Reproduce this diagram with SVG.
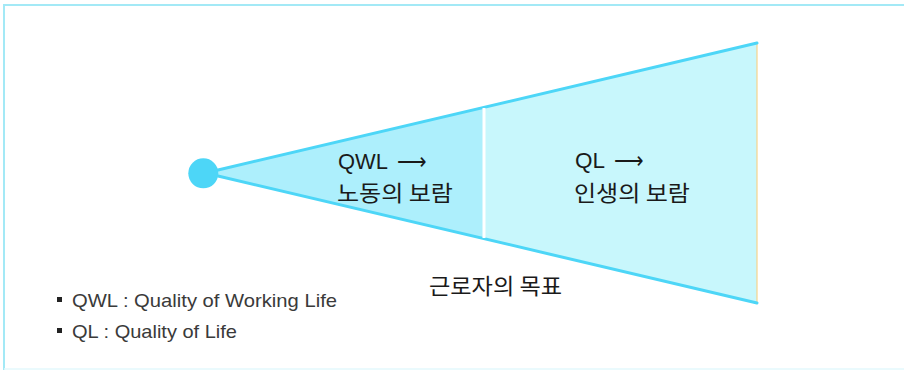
<svg xmlns="http://www.w3.org/2000/svg" width="904" height="370" viewBox="0 0 904 370">
<style>
.t{font-family:"Liberation Sans","Noto Sans CJK KR",sans-serif;fill:#1a1a1a}
.k{font-family:"Noto Sans CJK KR",sans-serif;fill:#1a1a1a}
.lg{font-family:"Liberation Sans","Noto Sans CJK KR",sans-serif;fill:#3a3a3a;font-size:19px}
.edge{stroke:#4dd6f7;stroke-width:3;fill:none;stroke-linecap:round}
</style>
<rect width="904" height="370" fill="#ffffff"/>
<g id="frame">
<line x1="4" y1="5" x2="904" y2="5" stroke="#a3e9f6" stroke-width="2"/>
<line x1="4" y1="4" x2="4" y2="370" stroke="#a3e9f6" stroke-width="2"/>
<line x1="4" y1="369" x2="904" y2="369" stroke="#e3f8fc" stroke-width="1.5"/>
</g>
<g id="wedge-qwl">
<polygon points="218,170 484,107.5 484,238.5 218,176" fill="#adeffc"/>
<text class="t" x="338" y="169" font-size="22" textLength="50" lengthAdjust="spacingAndGlyphs">QWL</text>
<text class="t" x="397" y="169" font-size="22" textLength="30" lengthAdjust="spacingAndGlyphs">⟶</text>
<text class="k" x="337" y="201" font-size="22" textLength="116" lengthAdjust="spacingAndGlyphs">노동의 보람</text>
</g>
<g id="wedge-ql">
<polygon points="484,107.5 757,43 757,303 484,238.5" fill="#c8f7fc"/>
<line x1="757" y1="43" x2="757" y2="303" stroke="#f6d38c" stroke-width="1.2"/>
<text class="t" x="575" y="168" font-size="22" textLength="30" lengthAdjust="spacingAndGlyphs">QL</text>
<text class="t" x="614" y="168" font-size="22" textLength="30" lengthAdjust="spacingAndGlyphs">⟶</text>
<text class="k" x="574" y="201" font-size="22" textLength="116" lengthAdjust="spacingAndGlyphs">인생의 보람</text>
</g>
<g id="connectors">
<line class="edge" x1="218" y1="170" x2="757" y2="43"/>
<line class="edge" x1="218" y1="176" x2="757" y2="303"/>
<line x1="484" y1="108" x2="484" y2="238" stroke="#ffffff" stroke-width="3"/>
</g>
<g id="origin">
<circle cx="203.3" cy="173.3" r="15" fill="#4dd6f7"/>
</g>
<g id="goal">
<text class="k" x="429" y="294" font-size="22" textLength="133" lengthAdjust="spacingAndGlyphs">근로자의 목표</text>
</g>
<g id="legend">
<rect x="57" y="297" width="5" height="5" fill="#222"/>
<text class="lg" x="72" y="307" textLength="265" lengthAdjust="spacingAndGlyphs">QWL : Quality of Working Life</text>
<rect x="57" y="328" width="5" height="5" fill="#222"/>
<text class="lg" x="72" y="338" textLength="165" lengthAdjust="spacingAndGlyphs">QL : Quality of Life</text>
</g>
</svg>
